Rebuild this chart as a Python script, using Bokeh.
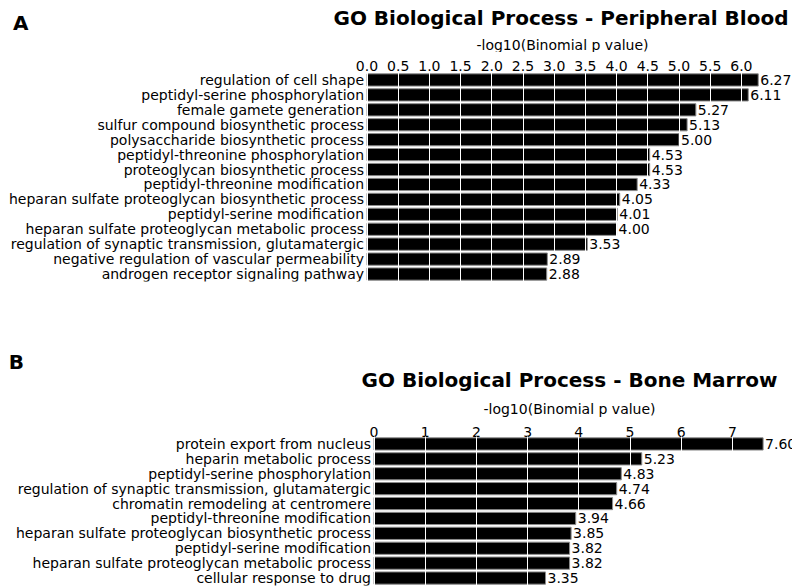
from bokeh.plotting import figure
from bokeh.models import Range1d, FixedTicker, ColumnDataSource, LabelSet, Label, PrintfTickFormatter
from bokeh.core.properties import value
from bokeh.layouts import column
from bokeh.embed import file_html
from bokeh.resources import INLINE

terms_a = [
    "regulation of cell shape",
    "peptidyl-serine phosphorylation",
    "female gamete generation",
    "sulfur compound biosynthetic process",
    "polysaccharide biosynthetic process",
    "peptidyl-threonine phosphorylation",
    "proteoglycan biosynthetic process",
    "peptidyl-threonine modification",
    "heparan sulfate proteoglycan biosynthetic process",
    "peptidyl-serine modification",
    "heparan sulfate proteoglycan metabolic process",
    "regulation of synaptic transmission, glutamatergic",
    "negative regulation of vascular permeability",
    "androgen receptor signaling pathway",
]
values_a = [6.27, 6.11, 5.27, 5.13, 5.00, 4.53, 4.53, 4.33, 4.05, 4.01, 4.00, 3.53, 2.89, 2.88]
ticks_a = [0.0, 0.5, 1.0, 1.5, 2.0, 2.5, 3.0, 3.5, 4.0, 4.5, 5.0, 5.5, 6.0]

terms_b = [
    "protein export from nucleus",
    "heparin metabolic process",
    "peptidyl-serine phosphorylation",
    "regulation of synaptic transmission, glutamatergic",
    "chromatin remodeling at centromere",
    "peptidyl-threonine modification",
    "heparan sulfate proteoglycan biosynthetic process",
    "peptidyl-serine modification",
    "heparan sulfate proteoglycan metabolic process",
    "cellular response to drug",
]
values_b = [7.60, 5.23, 4.83, 4.74, 4.66, 3.94, 3.85, 3.82, 3.82, 3.35]
ticks_b = [0, 1, 2, 3, 4, 5, 6, 7]

title_a = "GO Biological Process - Peripheral Blood"
title_b = "GO Biological Process - Bone Marrow"
xlabel = "-log10(Binomial p value)"

FONT = "DejaVu Sans"
W = 792


def header(height, letter, letter_pos, title, title_pos, xlab_pos):
    h = figure(width=W, height=height, x_range=Range1d(0, W), y_range=Range1d(height, 0),
               x_axis_type=None, y_axis_type=None, title=None,
               output_backend="svg", toolbar_location=None,
               min_border=0, min_border_left=0, min_border_right=0,
               min_border_top=0, min_border_bottom=0)
    h.outline_line_color = None
    h.xgrid.visible = False
    h.ygrid.visible = False
    h.add_layout(Label(x=letter_pos[0], y=letter_pos[1], text=letter,
                       text_font=FONT, text_font_size="20px", text_font_style="bold",
                       text_align="left", text_baseline="middle", text_color="black"))
    h.add_layout(Label(x=title_pos[0], y=title_pos[1], text=title,
                       text_font=FONT, text_font_size="20px", text_font_style="bold",
                       text_align="right", text_baseline="middle", text_color="black"))
    h.add_layout(Label(x=xlab_pos[0], y=xlab_pos[1], text=xlabel,
                       text_font=FONT, text_font_size="14px",
                       text_align="center", text_baseline="middle", text_color="black"))
    return h


def panel(terms, values, ticks, fmt, height, x0_px, unit_px, bt, bb, y_bottom, standoff):
    n = len(terms)
    idx = list(range(n))
    src = ColumnDataSource(dict(y=idx, v=values, lab=[f"{v:.2f}" for v in values],
                                term=terms, zero=[0] * n))
    p = figure(width=W, height=height,
               x_range=Range1d(-x0_px / unit_px, (W - x0_px) / unit_px),
               y_range=Range1d(y_bottom, -0.5), x_axis_location="above",
               y_axis_location=None, title=None,
               output_backend="svg", toolbar_location=None,
               min_border=0, min_border_left=0, min_border_right=0,
               min_border_top=bt, min_border_bottom=bb)
    p.outline_line_color = None
    p.hbar(y="y", right="v", left=0, height=0.82, source=src,
           fill_color="black", line_color="#8c8c8c", line_width=1)
    p.text(x="zero", y="y", text="term", source=src, x_offset=-3,
           text_font=value(FONT), text_font_size="14px", text_align="right",
           text_baseline="middle", text_color="black")
    p.add_layout(LabelSet(x="v", y="y", text="lab", source=src, x_offset=2,
                          text_font=value(FONT), text_font_size="14px",
                          text_baseline="middle", text_align="left",
                          text_color="black"))
    xa = p.xaxis[0]
    xa.ticker = FixedTicker(ticks=ticks)
    xa.formatter = PrintfTickFormatter(format=fmt)
    xa.axis_line_color = None
    xa.major_tick_line_color = None
    xa.minor_tick_line_color = None
    xa.major_tick_out = 0
    xa.major_tick_in = 0
    xa.major_label_standoff = standoff
    xa.major_label_text_font = FONT
    xa.major_label_text_font_size = "14px"
    xa.major_label_text_color = "black"
    p.ygrid.visible = False
    p.xgrid.ticker = FixedTicker(ticks=ticks)
    p.xgrid.grid_line_color = "white"
    p.xgrid.grid_line_width = 1
    p.xgrid.level = "guide"
    return p


ha = header(52, "A", (12.5, 22.5), title_a, (788, 17.3), (562, 44.4))
pa = panel(terms_a, values_a, ticks_a, "%.1f", 248, 366.5, 62.4, 20, 19, 13.5, 2)
hb = header(118, "B", (8.2, 61.3), title_b, (777, 79.2), (569, 108.3))
pb = panel(terms_b, values_b, ticks_b, "%d", 170, 373.5, 51.2, 18, 3, 9.5, 0)

layout = column(ha, pa, hb, pb, spacing=0)
open("out.html", "w").write(file_html(layout, INLINE))
